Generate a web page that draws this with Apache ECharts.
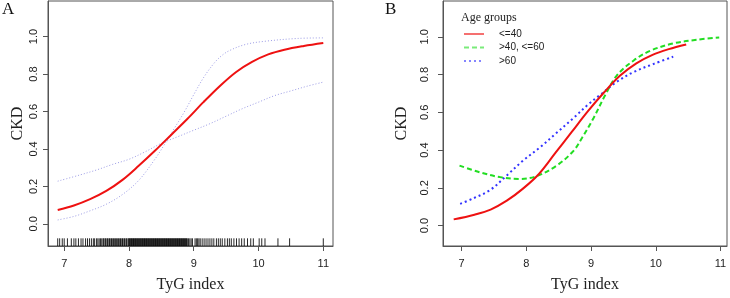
<!DOCTYPE html>
<html>
<head>
<meta charset="utf-8">
<script src="https://cdn.jsdelivr.net/npm/echarts@6/dist/echarts.min.js"></script>
<style>
  html, body { margin: 0; padding: 0; background: #fff; }
  #chart { width: 730px; height: 298px; }
</style>
</head>
<body>
<div id="chart"></div>
<script>
// panel A: overall fit and its two dotted CI curves
var fitA_x = [6.9, 7.15, 7.4, 7.65, 7.9, 8.15, 8.4, 8.65, 8.9, 9.15, 9.4, 9.65, 9.9, 10.15, 10.4, 10.7, 11.0];
var fitA_y = [0.074, 0.098, 0.132, 0.176, 0.235, 0.31, 0.39, 0.475, 0.56, 0.65, 0.735, 0.81, 0.865, 0.905, 0.93, 0.95, 0.966];
var ciShallow_x = [6.9, 7.25, 7.5, 7.75, 8.0, 8.25, 8.5, 8.75, 9.0, 9.25, 9.5, 9.75, 10.0, 10.25, 10.5, 10.75, 11.0];
var ciShallow_y = [0.228, 0.262, 0.288, 0.318, 0.345, 0.385, 0.43, 0.465, 0.50, 0.535, 0.575, 0.615, 0.65, 0.685, 0.71, 0.735, 0.757];
var ciSteep_x = [6.9, 7.15, 7.4, 7.65, 7.9, 8.15, 8.4, 8.55, 8.7, 8.85, 9.0, 9.15, 9.3, 9.42, 9.55, 9.8, 10.1, 10.6, 11.0];
var ciSteep_y = [0.021, 0.04, 0.07, 0.105, 0.157, 0.232, 0.345, 0.425, 0.51, 0.595, 0.69, 0.78, 0.852, 0.895, 0.925, 0.958, 0.975, 0.99, 0.993];

// rug of observed TyG values
var rugX = [6.90, 6.93, 6.97, 7.00, 7.05, 7.11, 7.15, 7.18, 7.22, 7.26, 7.29, 7.33, 7.36, 7.39, 7.42, 7.45, 7.47,
  7.50, 7.52, 7.54, 7.56, 7.58, 7.60, 7.61, 7.63, 7.64, 7.66, 7.67, 7.69, 7.70, 7.72, 7.73, 7.75, 7.76, 7.78,
  7.79, 7.81, 7.82, 7.84, 7.85, 7.87, 7.88, 7.90, 7.91, 7.93, 7.94, 7.96, 7.97, 7.99,
  8.00, 8.01, 8.02, 8.03, 8.04, 8.05, 8.06, 8.07, 8.08, 8.09, 8.10, 8.11, 8.12, 8.13, 8.14, 8.15, 8.16, 8.17,
  8.18, 8.19, 8.20, 8.21, 8.22, 8.23, 8.24, 8.25, 8.26, 8.27, 8.28, 8.29, 8.30, 8.31, 8.32, 8.33, 8.34, 8.35,
  8.36, 8.37, 8.38, 8.39, 8.40, 8.41, 8.42, 8.43, 8.44, 8.45, 8.46, 8.47, 8.48, 8.49, 8.50, 8.51, 8.52, 8.53,
  8.54, 8.55, 8.56, 8.57, 8.58, 8.59, 8.60, 8.61, 8.62, 8.63, 8.64, 8.65, 8.66, 8.67, 8.68, 8.69, 8.70, 8.71,
  8.72, 8.73, 8.74, 8.75, 8.76, 8.77, 8.78, 8.79, 8.80, 8.81, 8.82, 8.83, 8.84, 8.85, 8.86, 8.87, 8.88, 8.89,
  8.90, 8.92, 8.94, 8.96, 8.98,
  9.02, 9.04, 9.06, 9.08, 9.10, 9.13, 9.16, 9.19, 9.22, 9.25, 9.28, 9.31, 9.35, 9.38, 9.41, 9.44, 9.48, 9.52,
  9.55, 9.58, 9.62, 9.66, 9.70, 9.74, 9.78, 9.83, 9.88, 9.92, 10.01, 10.05, 10.10, 10.30, 10.48, 11.00];

// panel B: fits by age group
var ageGroups = ['<=40', '>40, <=60', '>60'];
var g1_x = [6.88, 7.2, 7.45, 7.7, 7.95, 8.2, 8.45, 8.7, 8.95, 9.2, 9.45, 9.7, 9.95, 10.2, 10.47];
var g1_y = [0.033, 0.058, 0.085, 0.132, 0.196, 0.275, 0.385, 0.495, 0.605, 0.705, 0.795, 0.86, 0.905, 0.935, 0.96];
var g2_x = [6.97, 7.28, 7.59, 7.9, 8.16, 8.47, 8.73, 8.86, 9.04, 9.22, 9.4, 9.66, 9.92, 10.28, 10.64, 10.98];
var g2_y = [0.318, 0.283, 0.257, 0.247, 0.262, 0.318, 0.396, 0.464, 0.57, 0.692, 0.796, 0.875, 0.927, 0.966, 0.985, 0.997];
var g3_x = [6.98, 7.18, 7.44, 7.7, 7.95, 8.21, 8.47, 8.73, 8.96, 9.14, 9.4, 9.66, 9.97, 10.27];
var g3_y = [0.115, 0.144, 0.188, 0.266, 0.344, 0.414, 0.492, 0.57, 0.643, 0.692, 0.762, 0.814, 0.857, 0.895];

var xTicks = [7, 8, 9, 10, 11];
var yTicks = [0, 0.2, 0.4, 0.6, 0.8, 1.0];

function zip(xs, ys) {
  return xs.map(function (x, i) { return [x, ys[i]]; });
}

var serif = 'Liberation Serif';
var sans = 'Liberation Sans';
var boxColor = '#555';
var yMinA = -0.118;
var rugTop = -0.077;

function makeX(idx, min, max) {
  return {
    type: 'value', gridIndex: idx, min: min, max: max,
    axisLine: { show: true, onZero: false, lineStyle: { color: boxColor } },
    axisTick: { show: true, customValues: xTicks, length: 5, lineStyle: { color: boxColor } },
    axisLabel: { customValues: xTicks, margin: 12, color: '#222', fontSize: 11, fontFamily: sans },
    splitLine: { show: false },
    name: 'TyG index', nameLocation: 'middle', nameGap: 31,
    nameTextStyle: { fontFamily: serif, fontSize: 16, color: '#222' }
  };
}

function makeY(idx, min, max, margin, nameGap) {
  return {
    type: 'value', gridIndex: idx, min: min, max: max,
    axisLine: { show: true, onZero: false, lineStyle: { color: boxColor } },
    axisTick: { show: true, customValues: yTicks, length: 5, lineStyle: { color: boxColor } },
    axisLabel: {
      customValues: yTicks, rotate: 90, margin: margin, color: '#222', fontSize: 11, fontFamily: sans,
      formatter: function (v) { return v.toFixed(1); }
    },
    splitLine: { show: false },
    name: 'CKD', nameLocation: 'middle', nameGap: nameGap, nameRotate: 90,
    nameTextStyle: { fontFamily: serif, fontSize: 16, color: '#222' }
  };
}

function lineSeries(name, grid, data, color, width, dash) {
  return {
    name: name, type: 'line', xAxisIndex: grid, yAxisIndex: grid, data: data,
    smooth: 0.35, showSymbol: false, symbol: 'none', color: color,
    lineStyle: { color: color, width: width, type: dash }
  };
}

var chart = echarts.init(document.getElementById('chart'));
var option = {
  animation: false,
  backgroundColor: '#fff',
  title: [
    { text: 'A', left: 2, top: 1, padding: 0, textStyle: { fontFamily: serif, fontSize: 17, fontWeight: 'normal', color: '#111' } },
    { text: 'B', left: 385, top: 1, padding: 0, textStyle: { fontFamily: serif, fontSize: 17, fontWeight: 'normal', color: '#111' } },
    { text: 'Age groups', left: 461, top: 12, padding: 0, textStyle: { fontFamily: serif, fontSize: 12, fontWeight: 'normal', color: '#222' } }
  ],
  legend: {
    data: ageGroups,
    orient: 'vertical', left: 463, top: 29, padding: 0,
    itemWidth: 20, itemHeight: 9, itemGap: 3.5,
    itemStyle: { opacity: 0 },
    lineStyle: { opacity: 0.6 },
    textStyle: { fontFamily: sans, fontSize: 10, color: '#222', padding: [0, 0, 0, 10] },
    selectedMode: false
  },
  grid: [
    { left: 48, top: 1, width: 285, height: 248, show: true, borderColor: boxColor, borderWidth: 1 },
    { left: 443, top: 1, width: 284, height: 249, show: true, borderColor: boxColor, borderWidth: 1 }
  ],
  xAxis: [makeX(0, 6.75, 11.15), makeX(1, 6.715, 11.1)],
  yAxis: [makeY(0, yMinA, 1.19, 9, 22), makeY(1, -0.108, 1.19, 13, 33)],
  series: [
    {
      type: 'custom', xAxisIndex: 0, yAxisIndex: 0, silent: true,
      data: rugX.map(function (v) { return [v, rugTop]; }),
      encode: { x: 0, y: 1 },
      renderItem: function (params, api) {
        var x = api.value(0);
        var p1 = api.coord([x, rugTop]);
        var p2 = api.coord([x, yMinA]);
        return {
          type: 'line',
          shape: { x1: p1[0], y1: p1[1], x2: p2[0], y2: p2[1] },
          style: { stroke: 'rgba(0,0,0,0.85)', lineWidth: 1 }
        };
      }
    },
    lineSeries('CI shallow', 0, zip(ciShallow_x, ciShallow_y), '#9c9ce6', 1, [1, 2]),
    lineSeries('CI steep', 0, zip(ciSteep_x, ciSteep_y), '#9c9ce6', 1, [1, 2]),
    lineSeries('fit', 0, zip(fitA_x, fitA_y), '#ee1111', 2, 'solid'),
    lineSeries(ageGroups[2], 1, zip(g3_x, g3_y), '#3333ff', 2, [2, 3]),
    lineSeries(ageGroups[1], 1, zip(g2_x, g2_y), '#22dd22', 2, [5, 3]),
    lineSeries(ageGroups[0], 1, zip(g1_x, g1_y), '#ee1111', 2, 'solid')
  ]
};
chart.setOption(option);
</script>
</body>
</html>
